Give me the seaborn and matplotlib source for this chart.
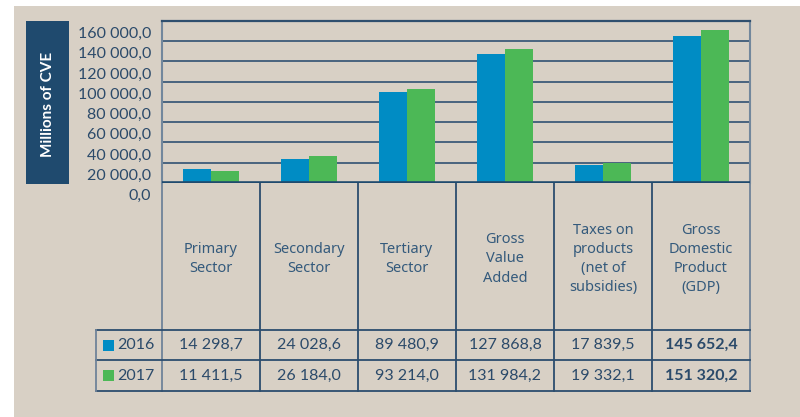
import numpy as np
import pandas as pd
import matplotlib
matplotlib.use('Agg')
import matplotlib.pyplot as plt
import seaborn as sns
from matplotlib.patches import Rectangle
from matplotlib.transforms import ScaledTranslation

## data
categories = ['Primary\nSector', 'Secondary\nSector', 'Tertiary\nSector',
              'Gross\nValue\nAdded', 'Taxes on\nproducts\n(net of\nsubsidies)',
              'Gross\nDomestic\nProduct\n(GDP)']
years = ['2016', '2017']
values_2016 = [14298.7, 24028.6, 89480.9, 127868.8, 17839.5, 145652.4]
values_2017 = [11411.5, 26184.0, 93214.0, 131984.2, 19332.1, 151320.2]
y_ticks = [0, 20000, 40000, 60000, 80000, 100000, 120000, 140000, 160000]

colors = {'2016': '#008cc4', '2017': '#4cb856'}
bg = '#d8d0c5'
navy = '#1f4a6e'
txt = '#2b4a6a'

df = pd.DataFrame({
    'category': categories * 2,
    'year': ['2016'] * 6 + ['2017'] * 6,
    'value': values_2016 + values_2017,
})

def fmt(v):
    return f"{v:,.1f}".replace(',', ' ').replace('.', ',')

W, H = 800, 417
fig = plt.figure(figsize=(8, 4.17), dpi=100, facecolor='white')

# overlay in pixel coords (background, table, side label)
ov = fig.add_axes([0, 0, 1, 1], zorder=0)
ov.set_xlim(0, W)
ov.set_ylim(H, 0)
ov.axis('off')
ov.add_patch(Rectangle((14, 6), W - 14, H - 6, color=bg, lw=0))
ov.add_patch(Rectangle((26, 21), 43, 163, color=navy, lw=0))
ov.text(47.5, 104, 'Millions of CVE', rotation=90, color='white', ha='center', va='center',
        fontsize=11, fontweight='bold', family='Lato')

# main chart
left, right, top, base = 162, 750, 21, 183
ax = fig.add_axes([left / W, 1 - base / H, (right - left) / W, (base - top) / H], zorder=1)
ax.set_facecolor('none')
sns.barplot(data=df, x='category', y='value', hue='year', palette=colors,
            width=0.58, saturation=1, legend=False, ax=ax, zorder=2)
ax.set_ylim(0, 160000)
ax.set_xlim(-0.5, len(categories) - 0.5)
ax.set_yticks(y_ticks)
ax.grid(axis='y', color='#3e5b79', lw=1.3)
ax.set_axisbelow(True)
ax.axhline(0, color=navy, lw=2.6, zorder=4)
ax.tick_params(left=False, bottom=False, labelleft=False, labelbottom=False)
ax.set_xlabel('')
ax.set_ylabel('')
ax.spines['bottom'].set_visible(False)
ax.spines['top'].set_color('#2f4f6e')
ax.spines['top'].set_linewidth(1.6)
for s in ['left', 'right']:
    ax.spines[s].set_color('#72879c')
    ax.spines[s].set_linewidth(1.5)

# y labels sit shifted below their gridlines
off = ScaledTranslation(-11 / 100, -13 / 100, fig.dpi_scale_trans)
for t in y_ticks:
    ax.text(0, t, fmt(t), transform=ax.get_yaxis_transform() + off,
            ha='right', va='center', fontsize=11.5, family='Lato', color=txt)

# table
col_w = (right - left) / len(categories)
row1, row2, row3 = 330, 360, 391
line_c = '#2c4d6e'
for i in range(len(categories) + 1):
    x = left + i * col_w
    c = '#6f8399' if i in (0, len(categories)) else line_c
    ov.plot([x, x], [base, row3], color=c, lw=1.3)
for y in (row1, row2, row3):
    ov.plot([96, right], [y, y], color=line_c, lw=1.3)
ov.plot([96, 96], [row1, row3], color='#6f8399', lw=1.3)

for i, cat in enumerate(categories):
    cx = left + col_w * (i + 0.5)
    ov.text(cx, 259, cat, ha='center', va='center', multialignment='center',
            fontsize=10.5, family='Noto Sans', color='#345a7c', linespacing=1.38)
    bold = 'bold' if i == len(categories) - 1 else 'normal'
    ov.text(cx, (row1 + row2) / 2, fmt(values_2016[i]), ha='center', va='center',
            fontsize=11.5, family='Lato', color=txt, fontweight=bold)
    ov.text(cx, (row2 + row3) / 2, fmt(values_2017[i]), ha='center', va='center',
            fontsize=11.5, family='Lato', color=txt, fontweight=bold)

for yr, (y0, y1) in zip(years, [(row1, row2), (row2, row3)]):
    yc = (y0 + y1) / 2
    ov.add_patch(Rectangle((103, yc - 5.5), 11, 11, color=colors[yr], lw=0))
    ov.text(117, yc, yr, ha='left', va='center', fontsize=11.5, family='Lato', color=txt)

fig.savefig('out.png', dpi=100, facecolor=fig.get_facecolor())
